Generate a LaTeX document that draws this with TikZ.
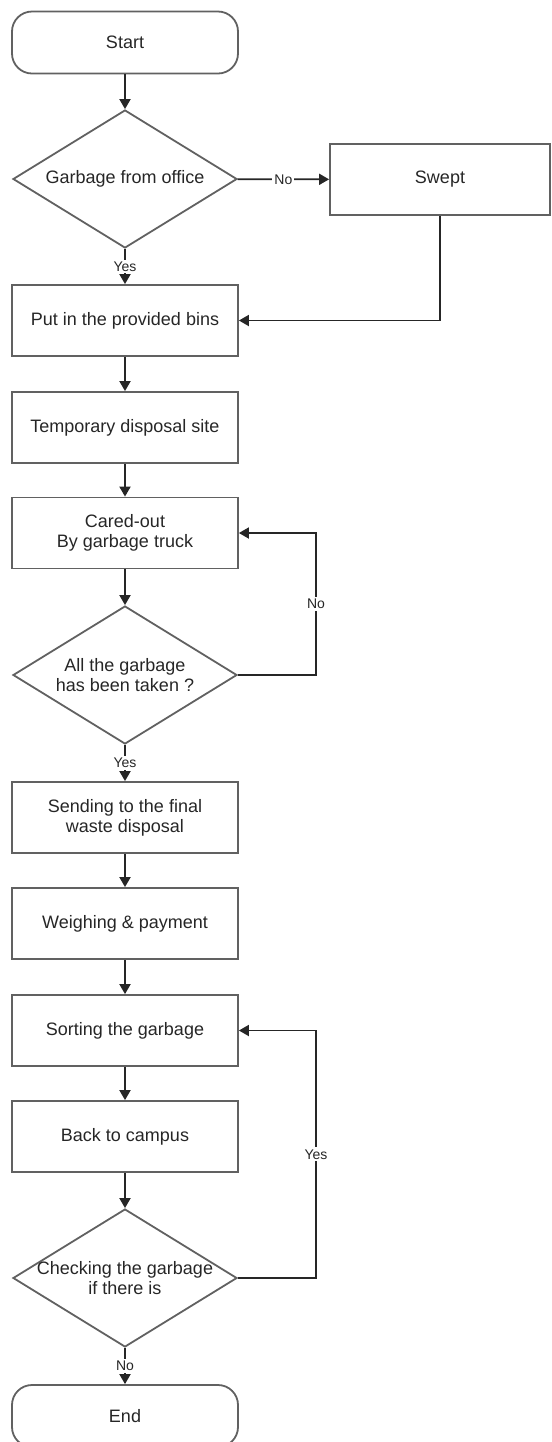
\documentclass[tikz,border=0pt]{standalone}
\usepackage{fontspec}
\setmainfont{Liberation Sans}
\usetikzlibrary{arrows.meta,shapes.geometric}
\begin{document}
\begin{tikzpicture}[x=0.5pt,y=-0.5pt,
  font=\fontsize{9}{10}\selectfont,
  box/.style={draw=black!62, line width=0.9pt, rectangle, minimum width=113pt, minimum height=35.5pt, inner sep=0pt, align=center, text=black!85},
  term/.style={box, rounded corners=10pt, minimum height=31pt},
  dec/.style={draw=black!62, line width=0.9pt, diamond, minimum width=112pt, minimum height=69pt, inner sep=0pt},
  dectext/.style={align=center, inner sep=0pt, text=black!85},
  arr/.style={draw=black!85, line width=0.9pt, -{Triangle[length=5pt,width=5.5pt]}},
  lbl/.style={fill=white, font=\fontsize{7}{8}\selectfont, inner sep=1pt, text=black!85}
]
\useasboundingbox (0,0) rectangle (552,1442);
\clip (0,0) rectangle (552,1442);

\node[term] (start) at (125,42.5) {Start};
\node[dec] (d1) at (125,179) {};
\node[dectext] (d1t) at (d1.center) {Garbage from office};
\node[box, minimum width=110pt] (swept) at (440,179.5) {Swept};
\node[box] (put) at (125,320.5) {Put in the provided bins};
\node[box] (temp) at (125,427.5) {Temporary disposal site};
\node[box] (cared) at (125,533) {Cared-out\\By garbage truck};
\node[dec] (d2) at (125,675) {};
\node[dectext] (d2t) at (d2.center) {All the garbage\\has been taken ?};
\node[box] (send) at (125,817.5) {Sending to the final\\waste disposal};
\node[box] (weigh) at (125,923.5) {Weighing \& payment};
\node[box] (sort) at (125,1030.5) {Sorting the garbage};
\node[box] (back) at (125,1136.5) {Back to campus};
\node[dec] (d3) at (125,1278) {};
\node[dectext] (d3t) at (d3.center) {Checking the garbage\\if there is};
\node[term] (end) at (125,1416) {End};

\coordinate (c2) at (316,675);
\coordinate (c3) at (316,1278);

\draw[arr] (start) -- (d1);
\draw[arr] (d1) -- node[lbl]{No} (swept);
\draw[arr] (d1) -- node[lbl]{Yes} (put);
\draw[arr] (swept.south) |- (put.east);
\draw[arr] (put) -- (temp);
\draw[arr] (temp) -- (cared);
\draw[arr] (cared) -- (d2);
\draw[arr] (d2.east) -- (c2) |- node[lbl,pos=0.25]{No} (cared.east);
\draw[arr] (d2) -- node[lbl]{Yes} (send);
\draw[arr] (send) -- (weigh);
\draw[arr] (weigh) -- (sort);
\draw[arr] (sort) -- (back);
\draw[arr] (back) -- (d3);
\draw[arr] (d3.east) -- (c3) |- node[lbl,pos=0.25]{Yes} (sort.east);
\draw[arr] (d3) -- node[lbl]{No} (end);
\end{tikzpicture}
\end{document}
